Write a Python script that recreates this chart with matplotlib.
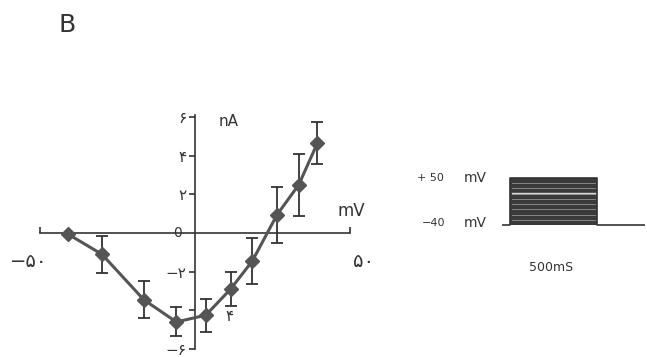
import matplotlib
matplotlib.use("Agg")
from matplotlib import pyplot as plt

plt.rcParams['font.family'] = ['DejaVu Sans']

# I-V curve (mV, nA)
voltage = [-41, -30, -16.5, -6, 3.5, 11.5, 18.5, 26.5, 33.5, 39.5]
current = [-0.05, -1.1, -3.45, -4.6, -4.25, -2.9, -1.45, 0.95, 2.5, 4.65]
error = [0.0, 0.95, 0.95, 0.75, 0.85, 0.9, 1.2, 1.45, 1.6, 1.1]

y_ticks = [-6, -4, -2, 2, 4, 6]
y_tick_labels = ['\u2212\u06f6', '', '\u2212\u06f2', '\u06f2', '\u06f4', '\u06f6']

# voltage protocol (ms, mV)
hold_mv = -40
step_mv = [-30, -20, -10, 0, 10, 20, 30, 40, 50]
pulse_start = 0
pulse_end = 500
trace_t = [-46, 0, 0, 500, 500, 776]

fig = plt.figure(figsize=(6.47, 3.57), dpi=100)

ax = fig.add_axes([0.0618, 0.0224, 0.479, 0.655])
ax.set_xlim(-50, 50)
ax.set_ylim(-5.9, 6.1)
for s in ['top', 'right']:
    ax.spines[s].set_visible(False)
ax.spines['left'].set_position(('data', 0))
ax.spines['bottom'].set_position(('data', 0))
ax.spines['left'].set_color('#333333')
ax.spines['bottom'].set_color('#333333')
ax.spines['left'].set_linewidth(1.2)
ax.spines['bottom'].set_linewidth(1.2)

ax.set_yticks(y_ticks)
ax.set_yticklabels(y_tick_labels, fontsize=11, color='#333333')
ax.tick_params(axis='y', direction='out', length=4, width=1.2, colors='#333333', pad=2)
ax.set_xticks([-50, 50])
ax.set_xticklabels(['', ''])
ax.tick_params(axis='x', direction='in', length=4, width=1.2, colors='#333333')

ax.errorbar(voltage, current, yerr=error, fmt='none', ecolor='#333333',
            elinewidth=1.3, capsize=4, capthick=1.3, zorder=2)
ax.plot(voltage, current, color='#555555', linewidth=2.2, marker='D',
        markersize=7.5, markerfacecolor='#555555', markeredgecolor='#555555', zorder=3)

ax.text(-5.5, 0, '0', fontsize=10, ha='center', va='center', color='#333333')
ax.text(11.3, -4.3, '\u06f4', fontsize=11, ha='center', va='center', color='#333333')
ax.text(-53.5, -1.45, '\u2212\u06f5\u06f0', fontsize=14, ha='center', va='center', color='#333333')
ax.text(54.5, -1.45, '\u06f5\u06f0', fontsize=14, ha='center', va='center', color='#333333')
ax.text(10.8, 5.75, 'nA', fontsize=11, ha='center', va='center', color='#333333')
ax.text(50.5, 1.15, 'mV', fontsize=12, ha='center', va='center', color='#333333')

fig.text(0.104, 0.93, 'B', fontsize=18, ha='center', va='center', color='#333333')

# inset: step protocol
ins = fig.add_axes([0.776, 0.3406, 0.221, 0.1754])
ins.set_xlim(trace_t[0], trace_t[-1])
ins.set_ylim(-60, 60)
ins.axis('off')
ins.fill_between([pulse_start, pulse_end], hold_mv, max(step_mv), color='#3a3a3a', linewidth=0)
ins.plot(trace_t, [hold_mv, hold_mv, max(step_mv), max(step_mv), hold_mv, hold_mv],
         color='#333333', linewidth=1.2)
for v in step_mv[:-1]:
    ins.plot([pulse_start + 10, pulse_end - 10], [v, v], color='white', linewidth=0.6, alpha=0.45)
ins.plot([pulse_start + 10, pulse_end - 10], [22, 22], color='white', linewidth=1.0, alpha=0.8)

ins.text(-455, 50, '+ 50', fontsize=8, ha='center', va='center', color='#333333')
ins.text(-440, -36, '\u221240', fontsize=8, ha='center', va='center', color='#333333')
ins.text(-200, 50, 'mV', fontsize=10, ha='center', va='center', color='#333333')
ins.text(-200, -36, 'mV', fontsize=10, ha='center', va='center', color='#333333')
ins.text(236, -122, '500mS', fontsize=9, ha='center', va='center', color='#333333')

fig.savefig('out.png', dpi=100)
